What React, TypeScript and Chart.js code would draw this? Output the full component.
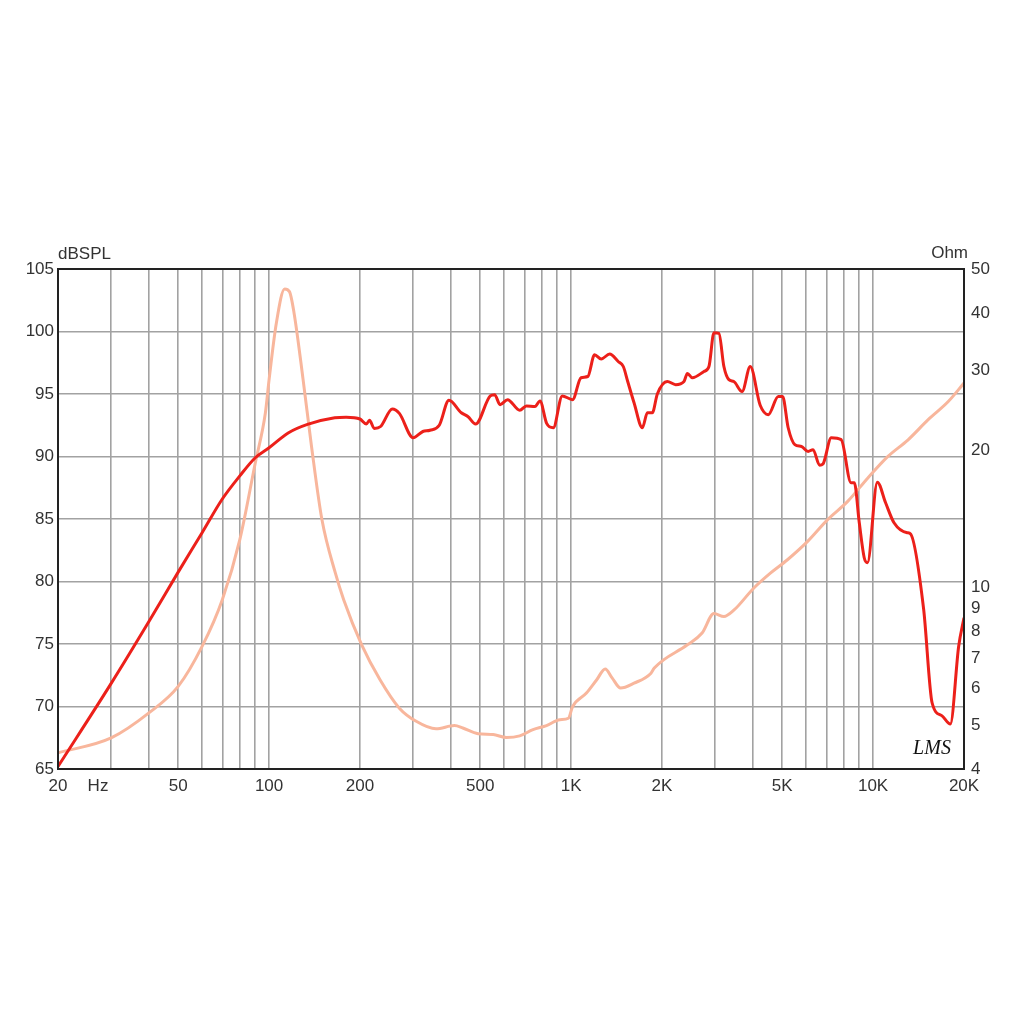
import React, { useEffect, useRef } from "react";
import { Chart, registerables } from "chart.js";

Chart.register(...registerables);

// SPL response (Hz, dB SPL)
const splFreq = [20, 30, 40, 50, 60, 70, 80, 90, 100, 116, 134, 165, 180, 200, 210, 215, 223, 234, 256, 270, 300, 323, 341, 366, 394, 433, 455, 483, 540, 558, 582, 616, 676, 711, 759, 789, 830, 873, 935, 1011, 1079, 1136, 1196, 1258, 1342, 1432, 1489, 1540, 1616, 1722, 1789, 1858, 1930, 2082, 2220, 2365, 2427, 2521, 2754, 2861, 2972, 3087, 3206, 3330, 3458, 3683, 3920, 4228, 4499, 4853, 5016, 5234, 5507, 5793, 6093, 6326, 6651, 6822, 7271, 7840, 8453, 8668, 9001, 9346, 9580, 10330, 11000, 11730, 12970, 13310, 14700, 15680, 16920, 18020, 19200, 20000];
const splDb = [65.2, 71.85, 76.8, 80.75, 83.9, 86.6, 88.45, 89.9, 90.7, 91.9, 92.57, 93.1, 93.15, 93.0, 92.6, 92.9, 92.25, 92.4, 93.8, 93.45, 91.5, 92.0, 92.1, 92.5, 94.5, 93.5, 93.2, 92.6, 94.85, 94.95, 94.15, 94.55, 93.7, 94.05, 94.0, 94.45, 92.65, 92.3, 94.85, 94.55, 96.3, 96.4, 98.15, 97.8, 98.2, 97.6, 97.2, 96.0, 94.3, 92.3, 93.5, 93.5, 95.0, 96.0, 95.75, 96.0, 96.65, 96.3, 96.8, 97.2, 99.9, 99.85, 97.2, 96.15, 96.0, 95.2, 97.2, 94.1, 93.35, 94.8, 94.8, 92.3, 90.95, 90.8, 90.4, 90.55, 89.3, 89.4, 91.5, 91.35, 87.9, 87.9, 84.7, 81.9, 81.5, 87.95, 86.3, 84.7, 83.9, 83.8, 77.8, 70.3, 69.25, 68.6, 74.8, 77.1];

// Impedance (Hz, Ohm)
const impFreq = [20, 30, 40, 50, 60, 70, 80, 90, 97.2, 100, 105.7, 112.6, 116.8, 121, 129.6, 138.2, 149.6, 165.7, 176.6, 202.6, 233, 270, 307, 357, 411, 438, 492, 552, 611, 676, 748, 829, 918, 980, 1011, 1124, 1216, 1297, 1367, 1458, 1616, 1839, 1886, 2427, 2715, 2972, 3206, 3458, 4030, 4580, 5205, 6070, 7070, 8240, 9610, 11200, 13060, 15220, 17740, 20000];
const impOhm = [4.34, 4.68, 5.31, 6.07, 7.43, 9.41, 12.74, 18.76, 24.15, 28.6, 38.07, 45.2, 44.6, 40.0, 28.6, 20.4, 14.1, 10.77, 9.41, 7.49, 6.28, 5.44, 5.09, 4.9, 4.98, 4.92, 4.78, 4.76, 4.69, 4.73, 4.88, 4.98, 5.13, 5.17, 5.48, 5.87, 6.28, 6.63, 6.34, 6.02, 6.17, 6.49, 6.66, 7.49, 7.95, 8.77, 8.64, 8.92, 9.98, 10.77, 11.51, 12.63, 14.1, 15.46, 17.4, 19.4, 21.1, 23.36, 25.6, 28.1];

// Axis ticks
const xGridTicks = [20, 30, 40, 50, 60, 70, 80, 90, 100, 200, 300, 400, 500, 600, 700, 800, 900, 1000, 2000, 3000, 4000, 5000, 6000, 7000, 8000, 9000, 10000, 20000];
const xTickValues = [20, 50, 100, 200, 500, 1000, 2000, 5000, 10000, 20000];
const xTickLabels = ["20", "50", "100", "200", "500", "1K", "2K", "5K", "10K", "20K"];
const leftTicks = [65, 70, 75, 80, 85, 90, 95, 100, 105];
const rightTicks = [4, 5, 6, 7, 8, 9, 10, 20, 30, 40, 50];

const FONT = "'Liberation Sans', Arial, sans-serif";
const TEXT = "#333333";
const GRID = "#a2a2a2";

const overlay = {
  id: "overlay",
  afterDraw(chart: any) {
    const { ctx, chartArea: a } = chart;
    ctx.save();
    ctx.strokeStyle = "#222222";
    ctx.lineWidth = 2;
    ctx.strokeRect(a.left, a.top, a.right - a.left, a.bottom - a.top);
    ctx.fillStyle = TEXT;
    ctx.font = `17px ${FONT}`;
    ctx.textBaseline = "middle";
    ctx.textAlign = "left";
    ctx.fillText("dBSPL", a.left, a.top - 15);
    ctx.textAlign = "right";
    ctx.fillText("Ohm", a.right + 4, a.top - 16);
    ctx.textAlign = "center";
    ctx.fillText("Hz", a.left + 40, a.bottom + 17);
    ctx.fillStyle = "#111111";
    ctx.font = "italic 20px 'Liberation Serif', serif";
    ctx.fillText("LMS", a.right - 32, a.bottom - 20);
    ctx.restore();
  },
};

export default function App() {
  const ref = useRef<HTMLCanvasElement | null>(null);
  useEffect(() => {
    if (!ref.current) return;
    const chart = new Chart(ref.current, {
      type: "line",
      data: {
        datasets: [
          {
            label: "SPL",
            data: splFreq.map((f, i) => ({ x: f, y: splDb[i] })),
            borderColor: "rgb(236,32,26)",
            borderWidth: 3,
            pointRadius: 0,
            cubicInterpolationMode: "monotone",
            yAxisID: "y",
          },
          {
            label: "Impedance",
            data: impFreq.map((f, i) => ({ x: f, y: impOhm[i] })),
            borderColor: "rgb(248,182,156)",
            borderWidth: 3,
            pointRadius: 0,
            cubicInterpolationMode: "monotone",
            yAxisID: "y2",
          },
        ],
      },
      options: {
        animation: false,
        responsive: false,
        layout: { padding: { top: 269, left: 0, right: 0, bottom: 0 } },
        plugins: { legend: { display: false }, tooltip: { enabled: false } },
        scales: {
          x: {
            type: "logarithmic",
            min: 20,
            max: 20000,
            border: { display: false },
            grid: { color: GRID, lineWidth: 1.6, drawTicks: false },
            afterBuildTicks: (s: any) => {
              s.ticks = xGridTicks.map((v) => ({ value: v }));
            },
            afterFit: (s: any) => {
              s.height = 255;
            },
            ticks: {
              autoSkip: false,
              maxRotation: 0,
              padding: 7,
              color: TEXT,
              font: { family: FONT, size: 17 },
              callback: (v: any) => {
                const i = xTickValues.indexOf(Number(v));
                return i >= 0 ? xTickLabels[i] : "";
              },
            },
          },
          y: {
            type: "linear",
            position: "left",
            min: 65,
            max: 105,
            border: { display: false },
            grid: { color: GRID, lineWidth: 1.6, drawTicks: false },
            afterBuildTicks: (s: any) => {
              s.ticks = leftTicks.map((v) => ({ value: v }));
            },
            afterFit: (s: any) => {
              s.width = 58;
            },
            ticks: {
              padding: 4,
              color: TEXT,
              font: { family: FONT, size: 17 },
              callback: (v: any) => String(v),
            },
          },
          y2: {
            type: "logarithmic",
            position: "right",
            min: 4,
            max: 50,
            border: { display: false },
            grid: { display: false, drawTicks: false },
            afterBuildTicks: (s: any) => {
              s.ticks = rightTicks.map((v) => ({ value: v }));
            },
            afterFit: (s: any) => {
              s.width = 60;
            },
            ticks: {
              autoSkip: false,
              padding: 7,
              color: TEXT,
              font: { family: FONT, size: 17 },
              callback: (v: any) => String(v),
            },
          },
        },
      },
      plugins: [overlay],
    });
    return () => chart.destroy();
  }, []);
  return (
    <div style={{ position: "absolute", left: 0, top: 0, width: 1024, height: 1024, background: "#fff" }}>
      <canvas ref={ref} width={1024} height={1024} style={{ display: "block" }} />
    </div>
  );
}
